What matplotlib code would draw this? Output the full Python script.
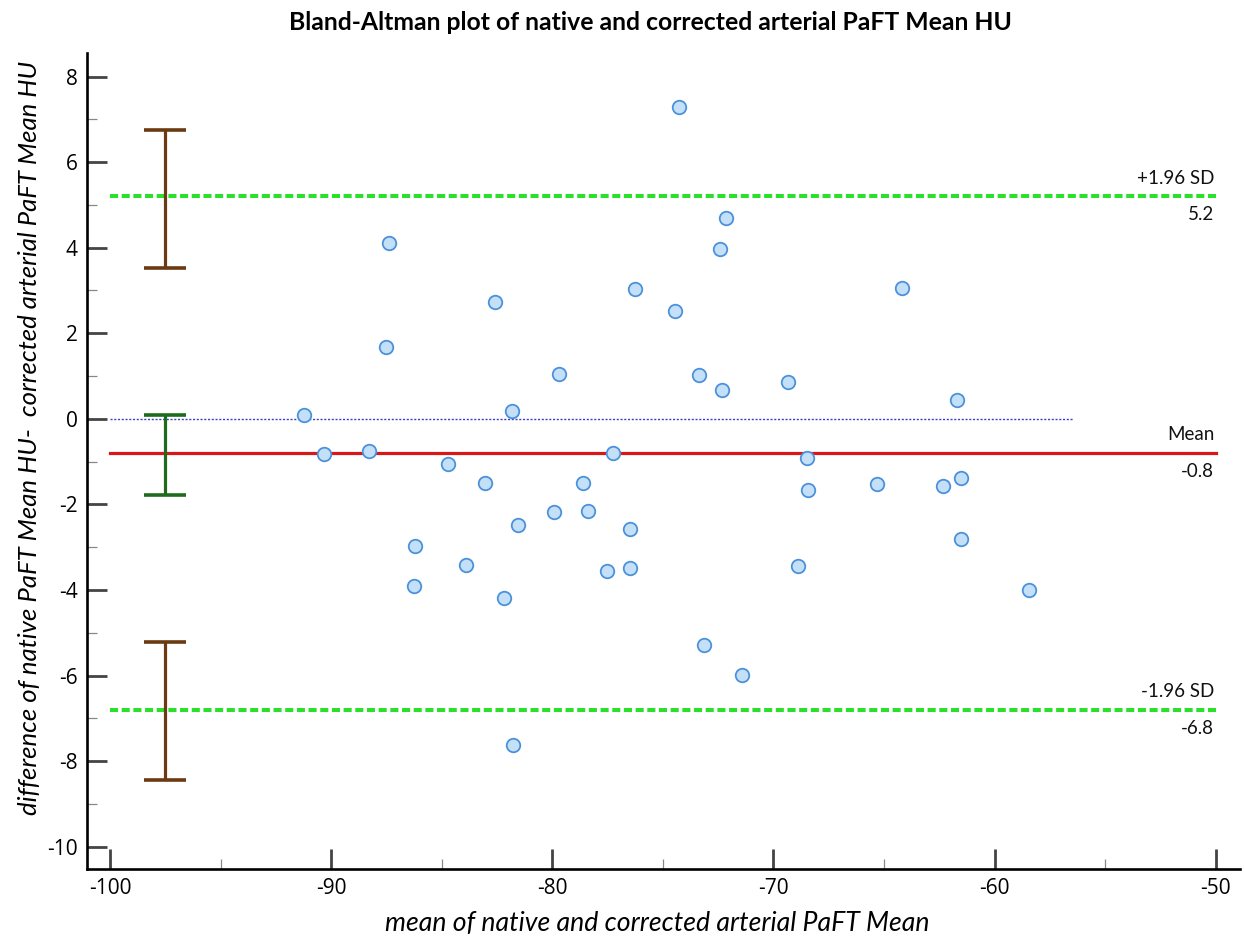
import matplotlib
matplotlib.use("Agg")
import matplotlib.pyplot as plt
from matplotlib.ticker import MultipleLocator

plt.rcParams["axes.unicode_minus"] = False

# Mean of the two measurements (x) and their difference (y) per subject
mean_hu = [-91.24, -90.31, -88.29, -87.37, -87.51, -86.21, -86.26, -84.71, -83.89,
           -83.06, -82.58, -81.81, -81.57, -82.20, -81.77, -79.72, -79.93, -78.39,
           -78.60, -77.25, -77.52, -76.51, -76.48, -76.25, -74.47, -74.28, -73.36,
           -73.16, -72.44, -72.15, -72.35, -71.41, -69.35, -68.91, -68.48, -68.43,
           -65.34, -64.21, -62.34, -61.71, -61.53, -61.53, -58.44]
diff_hu = [0.08, -0.83, -0.76, 4.11, 1.67, -2.98, -3.91, -1.05, -3.41,
           -1.50, 2.74, 0.19, -2.49, -4.18, -7.62, 1.04, -2.18, -2.15,
           -1.50, -0.80, -3.55, -2.58, -3.48, 3.04, 2.52, 7.29, 1.02,
           -5.28, 3.97, 4.69, 0.67, -5.98, 0.86, -3.45, -0.91, -1.66,
           -1.53, 3.06, -1.58, 0.44, -1.39, -2.81, -4.01]

# Bias and limits of agreement
bias = -0.8
upper_loa = 5.2
lower_loa = -6.8

# 95% confidence intervals (low, high) for upper LoA, bias, lower LoA
ci_upper = (3.52, 6.75)
ci_bias = (-1.79, 0.10)
ci_lower = (-8.44, -5.21)
ci_x = -97.5

x_ticks = [-100, -90, -80, -70, -60, -50]
y_ticks = [8, 6, 4, 2, 0, -2, -4, -6, -8, -10]

W, H = 1244, 939
fig = plt.figure(figsize=(W / 100, H / 100), dpi=100)
ax = fig.add_axes([87 / W, (H - 869) / H, (1240 - 87) / W, (869 - 53) / H])
ax.set_xlim(-101.05, -48.9)
ax.set_ylim(-10.52, 8.55)

for side in ("top", "right"):
    ax.spines[side].set_visible(False)
for side in ("left", "bottom"):
    ax.spines[side].set_linewidth(1.9)
    ax.spines[side].set_color("black")

ax.set_xticks(x_ticks)
ax.set_yticks(y_ticks)
ax.xaxis.set_minor_locator(MultipleLocator(5))
ax.yaxis.set_minor_locator(MultipleLocator(1))
ax.tick_params(which="major", direction="in", length=14.5, width=2.0,
               color="#444444", labelsize=15, pad=6.5)
ax.tick_params(which="minor", direction="in", length=7.5, width=0.9,
               color="#888888")
for lab in ax.get_xticklabels() + ax.get_yticklabels():
    lab.set_fontfamily("Open Sans")

# Zero reference line
ax.plot([-100, -56.45], [0, 0], color="#4040B8", lw=1.0,
        linestyle=(0, (1.5, 1.2)), zorder=2)

# Bias and limits of agreement
ax.plot([-100, -50], [bias, bias], color="#D81818", lw=2.3, zorder=2)
for v in (upper_loa, lower_loa):
    ax.plot([-100, -50], [v, v], color="#2BE02B", lw=2.9,
            linestyle=(0, (2.0, 0.9)), zorder=2)

# Confidence interval bars
for (lo, hi), col in ((ci_upper, "#6B3A12"), (ci_bias, "#1E6B1E"),
                      (ci_lower, "#6B3A12")):
    mid = (lo + hi) / 2
    ax.errorbar([ci_x], [mid], yerr=[[mid - lo], [hi - mid]], fmt="none",
                ecolor=col, elinewidth=2.3, capsize=15, capthick=2.6, zorder=3)

# Data points
ax.scatter(mean_hu, diff_hu, s=95, facecolor="#C4E0F8", edgecolor="#4C92DA",
           linewidth=1.3, zorder=4)

# Line annotations
lbl_font = dict(family="Lato", size=13.5, color="#111111")
for y, top, bottom in ((upper_loa, "+1.96 SD", f"{upper_loa:.1f}"),
                       (bias, "Mean", f"{bias:.1f}"),
                       (lower_loa, "-1.96 SD", f"{lower_loa:.1f}")):
    ax.annotate(top, (-50, y), xytext=(-1, 7), textcoords="offset points",
                ha="right", va="bottom", **lbl_font)
    ax.annotate(bottom, (-50, y), xytext=(-1, -7), textcoords="offset points",
                ha="right", va="top", **lbl_font)

fig.text(650 / W, 1 - 22 / H,
         "Bland-Altman plot of native and corrected arterial PaFT Mean HU",
         ha="center", va="center", family="Lato", weight="bold", size=17.8)
fig.text(657 / W, 1 - 924 / H, "mean of native and corrected arterial PaFT Mean",
         ha="center", va="center", family="Lato", style="italic", size=19.2)
fig.text(30 / W, 1 - 438 / H,
         "difference of native PaFT Mean HU-  corrected arterial PaFT Mean HU",
         ha="center", va="center", rotation=90, family="Lato",
         style="italic", size=18.5)

fig.savefig("out.png", dpi=100, facecolor="white")
